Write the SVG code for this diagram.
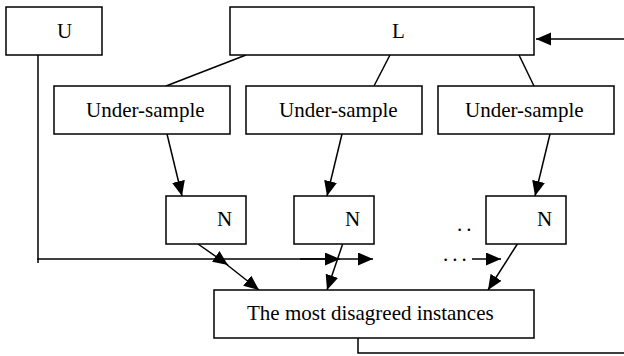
<svg xmlns="http://www.w3.org/2000/svg" width="624" height="356" viewBox="0 0 624 356">
<style>
.box{fill:#fff;stroke:#000;stroke-width:1.5}
.ln{fill:none;stroke:#000;stroke-width:1.5}
.t{font-family:"Liberation Serif","Times New Roman",serif;font-size:21px;fill:#000}
.d{font-family:"Liberation Serif","Times New Roman",serif;font-size:21px;fill:#000;letter-spacing:4px}
</style>
<defs>
<marker id="ah" markerUnits="userSpaceOnUse" markerWidth="16" markerHeight="14" refX="15" refY="6.5" orient="auto">
<path d="M0,0 L15,6.5 L0,13 z" fill="#000"/>
</marker>
</defs>
<rect width="624" height="356" fill="#fff"/>
<g id="connectors">
<path class="ln" d="M246,55 L166,86"/>
<path class="ln" d="M390,55 L374,86"/>
<path class="ln" d="M519,55 L534,86"/>
<path class="ln" d="M624,39 L536,39" marker-end="url(#ah)"/>
<path class="ln" d="M167,134 L182,196" marker-end="url(#ah)"/>
<path class="ln" d="M342,134 L327,196" marker-end="url(#ah)"/>
<path class="ln" d="M550,134 L535,196" marker-end="url(#ah)"/>
<path class="ln" d="M38,55 L38,263"/>
<path class="ln" d="M37.25,259 L373,259" marker-end="url(#ah)"/>
<path class="ln" d="M300,259 L340,259" marker-end="url(#ah)"/>
<path class="ln" d="M198,244 L228,265" marker-end="url(#ah)"/>
<path class="ln" d="M226,264 L259,290" marker-end="url(#ah)"/>
<path class="ln" d="M343,243 L327,290" marker-end="url(#ah)"/>
<path class="ln" d="M472,259 L501,259" marker-end="url(#ah)"/>
<path class="ln" d="M518,243 L488,290" marker-end="url(#ah)"/>
<path class="ln" d="M358,338 L358,353 L624,353"/>
</g>
<g id="U"><rect class="box" x="6" y="7" width="96" height="48"/><text class="t" x="57" y="38">U</text></g>
<g id="L"><rect class="box" x="230" y="7" width="304" height="48"/><text class="t" x="392" y="38">L</text></g>
<g id="us1"><rect class="box" x="54" y="86" width="176" height="48"/><text class="t" x="86" y="117">Under-sample</text></g>
<g id="us2"><rect class="box" x="246" y="86" width="176" height="48"/><text class="t" x="279" y="117">Under-sample</text></g>
<g id="us3"><rect class="box" x="438" y="86" width="176" height="48"/><text class="t" x="465" y="117">Under-sample</text></g>
<g id="n1"><rect class="box" x="166" y="196" width="80" height="48"/><text class="t" x="217" y="226">N</text></g>
<g id="n2"><rect class="box" x="294" y="196" width="80" height="48"/><text class="t" x="345" y="226">N</text></g>
<g id="n3"><rect class="box" x="486" y="196" width="80" height="48"/><text class="t" x="537" y="226">N</text></g>
<g id="dots"><text class="d" x="457" y="231">..</text><text class="d" x="443" y="261">...</text></g>
<g id="result"><rect class="box" x="214" y="290" width="320" height="48"/><text class="t" x="247" y="320">The most disagreed instances</text></g>
</svg>
